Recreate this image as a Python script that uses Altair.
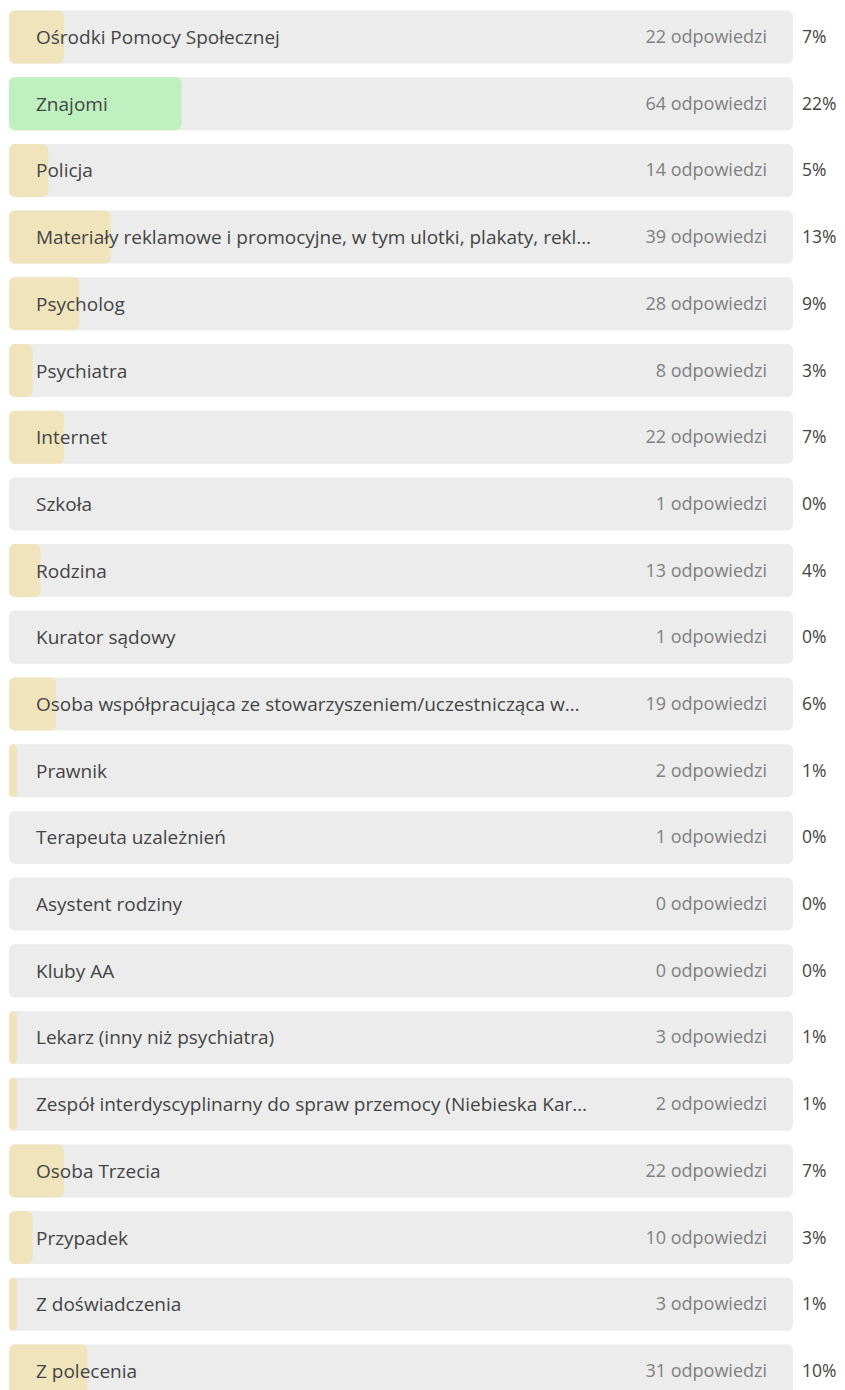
import altair as alt
import pandas as pd

labels = [
    "Ośrodki Pomocy Społecznej",
    "Znajomi",
    "Policja",
    "Materiały reklamowe i promocyjne, w tym ulotki, plakaty, rekl…",
    "Psycholog",
    "Psychiatra",
    "Internet",
    "Szkoła",
    "Rodzina",
    "Kurator sądowy",
    "Osoba współpracująca ze stowarzyszeniem/uczestnicząca w…",
    "Prawnik",
    "Terapeuta uzależnień",
    "Asystent rodziny",
    "Kluby AA",
    "Lekarz (inny niż psychiatra)",
    "Zespół interdyscyplinarny do spraw przemocy (Niebieska Kar…",
    "Osoba Trzecia",
    "Przypadek",
    "Z doświadczenia",
    "Z polecenia",
]
counts = [22, 64, 14, 39, 28, 8, 22, 1, 13, 1, 19, 2, 1, 0, 0, 3, 2, 22, 10, 3, 31]
percents = [7, 22, 5, 13, 9, 3, 7, 0, 4, 0, 6, 1, 0, 0, 0, 1, 1, 7, 3, 1, 10]

df = pd.DataFrame({
    "label": labels,
    "count": counts,
    "pct": percents,
})
df["countText"] = df["count"].astype(str) + " odpowiedzi"
df["pctText"] = df["pct"].astype(str) + "%"
df["full"] = 100
df["zero"] = 0
df["top"] = df["count"] == df["count"].max()

FONT = "Open Sans"

yenc = alt.Y("label:N", sort=labels, axis=None,
             scale=alt.Scale(paddingInner=0.205, paddingOuter=0.0375))
xscale = alt.Scale(domain=[0, 100], range=[1, 785])

base = alt.Chart(df)

bg = base.mark_bar(color="#ececec", cornerRadius=6).encode(
    y=yenc,
    x=alt.X("zero:Q", scale=xscale, axis=None),
    x2="full:Q",
)

fill = base.mark_bar(cornerRadius=6).encode(
    y=yenc,
    x=alt.X("zero:Q", scale=xscale, axis=None),
    x2="pct:Q",
    color=alt.Color("top:N", scale=alt.Scale(domain=[True, False], range=["#bef0c0", "#f0e4bc"]), legend=None),
)

lab = base.mark_text(align="left", baseline="middle", font=FONT, fontSize=19,
                     color="#444444", dy=1).encode(
    y=yenc,
    x=alt.value(28),
    text="label:N",
)

cnt = base.mark_text(align="right", baseline="middle", font=FONT, fontSize=18,
                     color="#808080", dy=1).encode(
    y=yenc,
    x=alt.value(759),
    text="countText:N",
)

pct = base.mark_text(align="left", baseline="middle", font=FONT, fontSize=17.5,
                     color="#444444", dy=1).encode(
    y=yenc,
    x=alt.value(794),
    text="pctText:N",
)

chart = alt.layer(bg, fill, lab, cnt, pct).properties(
    width=829, height=1392, padding=0,
    autosize=alt.AutoSizeParams(type="none"),
).configure_view(stroke=None)

chart.save("out.html", embed_options={"renderer": "svg", "actions": False})
